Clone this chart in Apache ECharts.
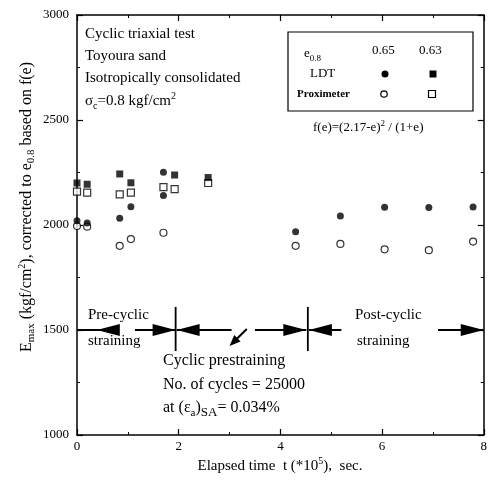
<!DOCTYPE html>
<html><head><meta charset="utf-8">
<script src="https://cdn.jsdelivr.net/npm/echarts@6/dist/echarts.min.js"></script>
<style>html,body{margin:0;padding:0;background:#fff}#c{width:490px;height:483px}</style>
</head><body><div id="c"></div>
<script>
// ---- axis ticks ----
const xTicks = [0, 2, 4, 6, 8];
const yTicks = [1000, 1500, 2000, 2500, 3000];

// ---- data (x in 1e5 s, y = Emax kgf/cm2) ----
// e0.8 = 0.65, LDT (filled circles)
const ldt065X = [0, 0.2, 0.84, 1.06, 1.70, 1.70, 4.30, 5.18, 6.05, 6.92, 7.79];
const ldt065Y = [2020, 2010, 2032, 2087, 2140, 2251, 1968, 2043, 2084, 2083, 2086];
// e0.8 = 0.65, Proximeter (open circles)
const prox065X = [0, 0.2, 0.84, 1.06, 1.70, 4.30, 5.18, 6.05, 6.92, 7.79];
const prox065Y = [1995, 1992, 1901, 1933, 1963, 1901, 1910, 1884, 1880, 1921];
// e0.8 = 0.63, LDT (filled squares)
const ldt063X = [0, 0.2, 0.84, 1.06, 1.92, 2.58];
const ldt063Y = [2200, 2194, 2243, 2201, 2238, 2226];
// e0.8 = 0.63, Proximeter (open squares)
const prox063X = [0, 0.2, 0.84, 1.06, 1.70, 1.92, 2.58];
const prox063Y = [2159, 2154, 2146, 2154, 2180, 2171, 2200];

// ---- annotation (data coordinates) ----
const phaseBounds = [1.94, 4.54];
const boundY = [1400, 1610];
const arrowY = 1500;
// [lineStart, lineEnd, arrowTip, direction(+1 right / -1 left)]
const phaseArrows = [
  [0.0, 0.71, 0.39, -1],
  [1.14, 1.94, 1.94, 1],
  [1.96, 3.04, 1.96, -1],
  [3.50, 4.51, 4.51, 1],
  [4.56, 5.20, 4.56, -1],
  [7.10, 8.00, 8.00, 1]
];
const pointerArrow = [[3.34, 1505], [3.0, 1424]];

const F = "'Liberation Serif','Times New Roman',serif";
const chart = echarts.init(document.getElementById('c'));
const pts = (xs, ys) => xs.map((x, i) => [x, ys[i]]);

const axisLine = {show: true, onZero: false, lineStyle: {color: '#000', width: 1.5}};
const axisTick = {show: true, inside: true, length: 6, lineStyle: {color: '#000', width: 1.2}};
const minorTick = {show: true, splitNumber: 2, length: 3, lineStyle: {color: '#000', width: 1}};
const xBase = {type: 'value', min: xTicks[0], max: xTicks[xTicks.length - 1], interval: xTicks[1] - xTicks[0],
  axisLine, axisTick, minorTick, splitLine: {show: false}};
const yBase = {type: 'value', min: yTicks[0], max: yTicks[yTicks.length - 1], interval: yTicks[1] - yTicks[0],
  axisLine, axisTick, minorTick, splitLine: {show: false}};

const filled = {color: '#000'};
const open = {color: '#fff', borderColor: '#000', borderWidth: 1.2};

chart.setOption({
  animation: false,
  backgroundColor: '#fff',
  grid: {left: 77, right: 6, top: 15, bottom: 48},
  xAxis: [
    Object.assign({}, xBase, {position: 'bottom', axisLabel: {color: '#000', fontFamily: F, fontSize: 13, margin: 5, formatter: v => String(v)}}),
    Object.assign({}, xBase, {position: 'top', axisLabel: {show: false}})
  ],
  yAxis: [
    Object.assign({}, yBase, {position: 'left', axisLabel: {color: '#000', fontFamily: F, fontSize: 13, margin: 8, formatter: v => String(v)}}),
    Object.assign({}, yBase, {position: 'right', axisLabel: {show: false}})
  ],
  series: [
    {type: 'scatter', name: 'LDT 0.63', data: pts(ldt063X, ldt063Y), symbol: 'rect', symbolSize: 7, itemStyle: filled, z: 3},
    {type: 'scatter', name: 'Prox 0.63', data: pts(prox063X, prox063Y), symbol: 'rect', symbolSize: 7, itemStyle: open, z: 2},
    {type: 'scatter', name: 'LDT 0.65', data: pts(ldt065X, ldt065Y), symbol: 'circle', symbolSize: 7, itemStyle: filled, z: 3},
    {type: 'scatter', name: 'Prox 0.65', data: pts(prox065X, prox065Y), symbol: 'circle', symbolSize: 7, itemStyle: open, z: 2}
  ]
});

const P = v => chart.convertToPixel({gridIndex: 0}, v);
const g = [];
const txt = (x, y, text, size, extra) => g.push({
  type: 'text', x, y, z: 10,
  style: Object.assign({text, fill: '#000', font: size + 'px ' + F, fontFamily: F, fontSize: size,
    textAlign: 'left', verticalAlign: 'middle', textVerticalAlign: 'middle'}, extra || {})
});

// top-left description
txt(85, 34, 'Cyclic triaxial test', 15);
txt(85, 56, 'Toyoura sand', 15);
txt(85, 78, 'Isotropically consolidated', 15);
txt(85, 101, 'σ{sub|c}=0.8 kgf/cm{sup|2}', 15, {rich: {
  sub: {fontSize: 10, fontFamily: F, verticalAlign: 'bottom', lineHeight: 12},
  sup: {fontSize: 10, fontFamily: F, verticalAlign: 'top', lineHeight: 12}}, lineHeight: 20});

// legend box
g.push({type: 'rect', shape: {x: 288, y: 32, width: 185, height: 79}, z: 9,
  style: {fill: '#fff', stroke: '#000', lineWidth: 1.2}});
txt(304, 54, 'e{sub|0.8}', 13, {rich: {sub: {fontSize: 9, fontFamily: F, verticalAlign: 'bottom', lineHeight: 10}}, lineHeight: 18});
txt(372, 51, '0.65', 13);
txt(419, 51, '0.63', 13);
txt(310, 74, 'LDT', 13);
txt(297, 94, 'Proximeter', 11, {fontWeight: 'bold'});
g.push({type: 'circle', shape: {cx: 385, cy: 74, r: 3.5}, z: 11, style: {fill: '#000'}});
g.push({type: 'rect', shape: {x: 429.5, y: 70.5, width: 7, height: 7}, z: 11, style: {fill: '#000'}});
g.push({type: 'circle', shape: {cx: 384, cy: 94, r: 3.2}, z: 11, style: {fill: '#fff', stroke: '#000', lineWidth: 1.2}});
g.push({type: 'rect', shape: {x: 428.5, y: 90.5, width: 7, height: 7}, z: 11, style: {fill: '#fff', stroke: '#000', lineWidth: 1.2}});
txt(313, 128, 'f(e)=(2.17-e){sup|2} / (1+e)', 13, {rich: {sup: {fontSize: 9, fontFamily: F, verticalAlign: 'top', lineHeight: 10}}, lineHeight: 18});

// phase annotations text
txt(88, 315, 'Pre-cyclic', 15);
txt(88, 341, 'straining', 15);
txt(163, 361, 'Cyclic prestraining', 16);
txt(163, 385, 'No. of cycles = 25000', 16);
txt(163, 408, 'at (ε{sub|a}){sub2|SA}= 0.034%', 16, {rich: {
  sub: {fontSize: 11, fontFamily: F, verticalAlign: 'bottom', lineHeight: 13},
  sub2: {fontSize: 13, fontFamily: F, verticalAlign: 'bottom', lineHeight: 14}}, lineHeight: 22});
txt(355, 315, 'Post-cyclic', 15);
txt(357, 341, 'straining', 15);

// boundaries
phaseBounds.forEach(b => {
  const a = P([b, boundY[0]]), c = P([b, boundY[1]]);
  g.push({type: 'line', z: 8, shape: {x1: a[0], y1: a[1], x2: c[0], y2: c[1]}, style: {stroke: '#000', lineWidth: 1.8}});
});
// arrows
const head = (tip, dx, dy, L, w) => {
  const n = [-dy, dx];
  return {type: 'polygon', z: 8, shape: {points: [tip,
    [tip[0] - L * dx + w * n[0], tip[1] - L * dy + w * n[1]],
    [tip[0] - L * dx - w * n[0], tip[1] - L * dy - w * n[1]]]}, style: {fill: '#000'}};
};
phaseArrows.forEach(([s, e, t, d]) => {
  const a = P([s, arrowY]), b = P([e, arrowY]), tp = P([t, arrowY]);
  g.push({type: 'line', z: 8, shape: {x1: a[0], y1: a[1], x2: b[0], y2: b[1]}, style: {stroke: '#000', lineWidth: 2}});
  g.push(head(tp, d, 0, 23, 6));
});
{
  const a = P(pointerArrow[0]), b = P(pointerArrow[1]);
  const len = Math.hypot(b[0] - a[0], b[1] - a[1]);
  const dx = (b[0] - a[0]) / len, dy = (b[1] - a[1]) / len;
  g.push({type: 'line', z: 8, shape: {x1: a[0], y1: a[1], x2: b[0] - 6 * dx, y2: b[1] - 6 * dy}, style: {stroke: '#000', lineWidth: 2}});
  g.push(head(b, dx, dy, 11, 4.5));
}

// axis titles
g.push({type: 'text', x: 27, y: 207, rotation: Math.PI / 2, z: 10,
  style: {text: 'E{sub|max} (kgf/cm{sup|2}), corrected to e{sub|0.8} based on f(e)', fill: '#000',
    font: '16px ' + F, fontFamily: F, fontSize: 16, textAlign: 'center', verticalAlign: 'middle', lineHeight: 20,
    rich: {sub: {fontSize: 11, fontFamily: F, verticalAlign: 'bottom', lineHeight: 12},
           sup: {fontSize: 10, fontFamily: F, verticalAlign: 'top', lineHeight: 12}}}});
g.push({type: 'text', x: 280, y: 466, z: 10,
  style: {text: 'Elapsed time  t (*10{sup|5}),  sec.', fill: '#000',
    font: '15px ' + F, fontFamily: F, fontSize: 15, textAlign: 'center', verticalAlign: 'middle', lineHeight: 20,
    rich: {sup: {fontSize: 10, fontFamily: F, verticalAlign: 'top', lineHeight: 12}}}});

chart.setOption({graphic: g});
</script>
</body></html>
